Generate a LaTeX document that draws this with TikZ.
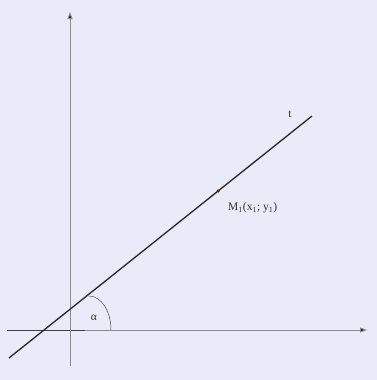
\documentclass[tikz,border=0pt]{standalone}
\usepackage{fontspec}
\setmainfont{Liberation Serif}
\usetikzlibrary{arrows.meta}
\definecolor{bg}{HTML}{E9EBF8}
\definecolor{axisgray}{HTML}{8A8A8A}
\definecolor{dotcol}{HTML}{5A2020}
\tikzset{
  axis/.style={draw=axisgray, line width=0.9pt, -{Triangle[length=7pt,width=5pt,fill=black!85]}},
  tline/.style={draw=black!85, line width=1.3pt},
  lbl/.style={font=\fontsize{11.5}{13}\selectfont, text=black!80, inner sep=0pt},
  anglearc/.style={draw=black!70, line width=0.5pt}
}
\begin{document}
\begin{tikzpicture}[x=1pt,y=-1pt]
\fill[bg] (0,0) rectangle (377,380);
\useasboundingbox (0,0) rectangle (377,380);
% axes
\coordinate (xs) at (7,330);
\coordinate (xe) at (367,330);
\coordinate (ys) at (70,366);
\coordinate (ye) at (70,12);
\draw[axis] (xs) -- (xe);
\draw[black!75, line width=0.9pt] (xs) -- (85,330);
\draw[axis] (ys) -- (ye);
% tangent line
\coordinate (ta) at (9,358);
\coordinate (tb) at (312,116);
\draw[tline] (ta) -- (tb);
% point
\node[circle, fill=dotcol, inner sep=0pt, minimum size=3.5pt] (m) at (218,191) {};
\node[lbl, anchor=west] (ml) at (228,208) {M\textsubscript{1}(x\textsubscript{1}; y\textsubscript{1})};
\node[lbl] (tl) at (290,114) {t};
% angle
\draw[anglearc] (89,296) arc[start angle=270, end angle=360, x radius=22, y radius=34];
\node[lbl] (al) at (94,318) {α};
\end{tikzpicture}
\end{document}
